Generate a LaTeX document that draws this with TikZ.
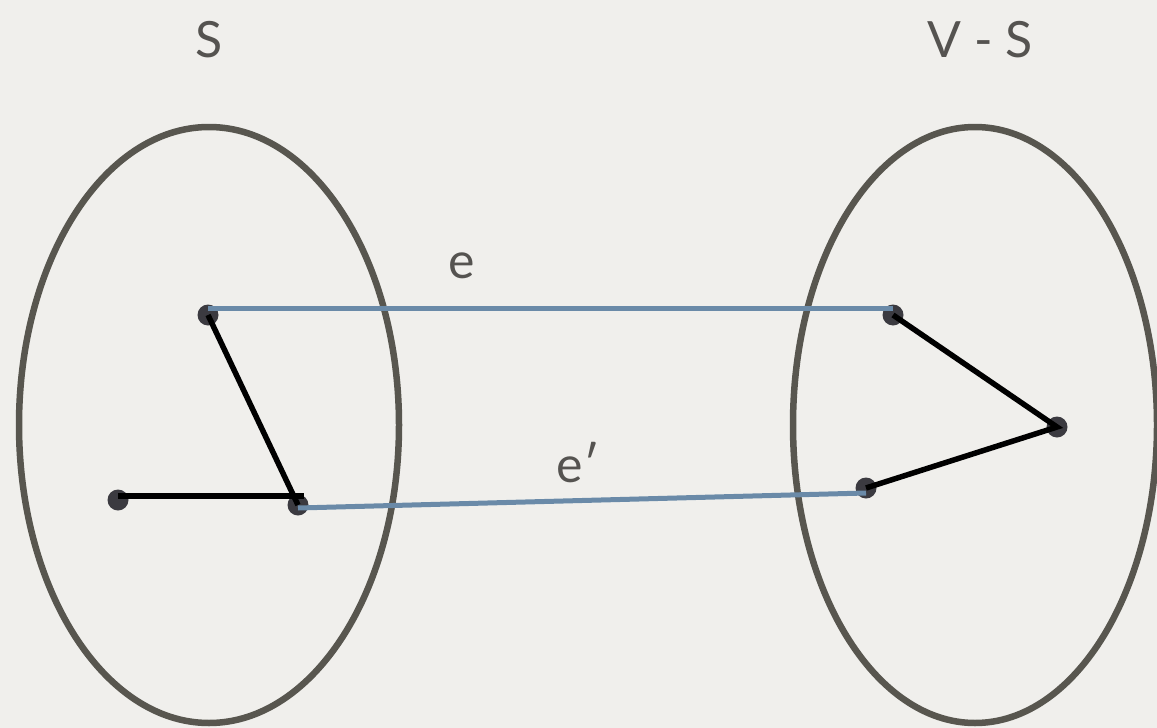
\documentclass[tikz,border=0pt]{standalone}
\usepackage{fontspec}
\setmainfont{Lato}
\usetikzlibrary{calc}
\definecolor{paper}{HTML}{F0EFEC}
\definecolor{ring}{HTML}{58564F}
\definecolor{dotc}{HTML}{3B3A40}
\definecolor{bluec}{HTML}{6A8AA8}
\definecolor{txt}{HTML}{555350}
\tikzset{
  vtx/.style={circle,fill=dotc,minimum size=21pt,inner sep=0pt},
  setring/.style={draw=ring,line width=6.5pt},
  tree/.style={draw=black,line width=5.5pt},
  cut/.style={draw=bluec,line width=5pt},
  lbl/.style={text=txt,font=\fontsize{50}{60}\selectfont,inner sep=0pt}
}
\begin{document}
\begin{tikzpicture}[x=1pt,y=-1pt]
\fill[paper] (0,0) rectangle (1157,728);
\useasboundingbox (0,0) rectangle (1157,728);
\draw[setring] (209,425) ellipse [x radius=190, y radius=298];
\draw[setring] (975,425) ellipse [x radius=182, y radius=298];
\node[lbl] (s) at (209,40) {S};
\node[lbl] (vs) at (980,40) {V - S};
\node[lbl] (e) at (462,266) {e};
\node[lbl] (e2) at (578,463) {e′};
\node[vtx] (a) at (208,315) {};
\node[vtx] (b) at (298,505) {};
\node[vtx] (c) at (118,500) {};
\node[vtx] (d) at (893,315) {};
\node[vtx] (f) at (1057,427) {};
\node[vtx] (g) at (866,488) {};
\draw[cut] ($(a.center)+(0,-7)$) -- ($(d.center)+(0,-7)$);
\draw[cut] ($(b.center)+(0,3)$) -- ($(g.center)+(0,5)$);
\draw[tree] (a.center) -- (b.center);
\draw[tree] ($(c.center)+(0,-4)$) -- ($(b.center)+(6,-9)$);
\draw[tree] (d.center) -- (f.center) -- (g.center);
\end{tikzpicture}
\end{document}
